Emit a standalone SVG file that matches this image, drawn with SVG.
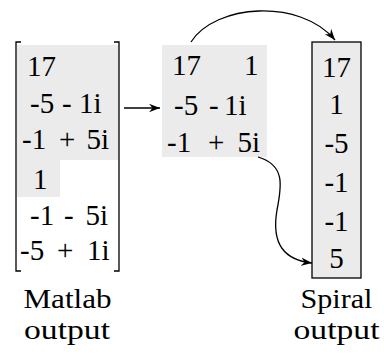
<svg xmlns="http://www.w3.org/2000/svg" width="384" height="356" viewBox="0 0 384 356">
  <style>
    text { font-family: "Liberation Serif", "DejaVu Serif", serif; font-size: 29px; fill: #000; }
    .mid { text-anchor: middle; }
    .cap { font-size: 28px; }
    .shade { fill: #ebebeb; stroke: none; }
    .bracket { fill: none; stroke: #000; stroke-width: 1.3; }
    .box { fill: #ebebeb; stroke: #000; stroke-width: 1.3; }
    .edge { fill: none; stroke: #000; stroke-width: 1.3; }
  </style>
  <defs>
    <marker id="stealth" viewBox="-11 -5 12 10" refX="0" refY="0" markerWidth="12" markerHeight="10" markerUnits="userSpaceOnUse" orient="auto">
      <path d="M0,0 L-11,-4.2 L-7.5,0 L-11,4.2 Z" fill="#000"/>
    </marker>
  </defs>

  <!-- Matlab column vector -->
  <g id="matlab-vector">
    <path class="shade" d="M17,45 H119 V160 H60 V197 H17 Z"/>
    <path class="bracket" d="M21,42 H16 V271 H21"/>
    <path class="bracket" d="M114,42 H119 V271 H114"/>
    <text x="27" y="76">17</text>
    <text y="113"><tspan x="30">-5</tspan> <tspan x="62">-</tspan> <tspan x="79">1i</tspan></text>
    <text y="149"><tspan x="22">-1</tspan> <tspan x="59">+</tspan> <tspan x="86.5">5i</tspan></text>
    <text x="33" y="189">1</text>
    <text y="225"><tspan x="30">-1</tspan> <tspan x="64">-</tspan> <tspan x="85.5">5i</tspan></text>
    <text y="260"><tspan x="20">-5</tspan> <tspan x="57">+</tspan> <tspan x="87">1i</tspan></text>
  </g>

  <!-- Paired intermediate block -->
  <g id="paired-block">
    <rect class="shade" x="162" y="45" width="105" height="112"/>
    <text x="172" y="75">17</text>
    <text x="244" y="75">1</text>
    <text y="115"><tspan x="174">-5</tspan> <tspan x="209">-</tspan> <tspan x="224">1i</tspan></text>
    <text y="152"><tspan x="167">-1</tspan> <tspan x="208">+</tspan> <tspan x="237.5">5i</tspan></text>
  </g>

  <!-- Spiral column vector -->
  <g id="spiral-vector">
    <rect class="box" x="312" y="42" width="49" height="236"/>
    <text class="mid" x="336.5" y="77">17</text>
    <text class="mid" x="336.5" y="114">1</text>
    <text class="mid" x="336.5" y="153">-5</text>
    <text class="mid" x="336.5" y="192">-1</text>
    <text class="mid" x="336.5" y="231">-1</text>
    <text class="mid" x="336.5" y="268">5</text>
  </g>

  <!-- Captions -->
  <g id="matlab-label">
    <text class="mid cap" x="67.5" y="308" textLength="88" lengthAdjust="spacingAndGlyphs">Matlab</text>
    <text class="mid cap" x="67" y="339" textLength="86" lengthAdjust="spacingAndGlyphs">output</text>
  </g>
  <g id="spiral-label">
    <text class="mid cap" x="336.5" y="308" textLength="72" lengthAdjust="spacingAndGlyphs">Spiral</text>
    <text class="mid cap" x="336.5" y="339" textLength="86" lengthAdjust="spacingAndGlyphs">output</text>
  </g>

  <!-- Connectors -->
  <g id="connectors">
    <path class="edge" d="M124,108 H160" marker-end="url(#stealth)"/>
    <path class="edge" d="M191,42 C215,4 300,-2 335,40" marker-end="url(#stealth)"/>
    <path class="edge" d="M258,157 C285,165 282,185 277,210 C271,245 285,260 312,263" marker-end="url(#stealth)"/>
  </g>
</svg>
